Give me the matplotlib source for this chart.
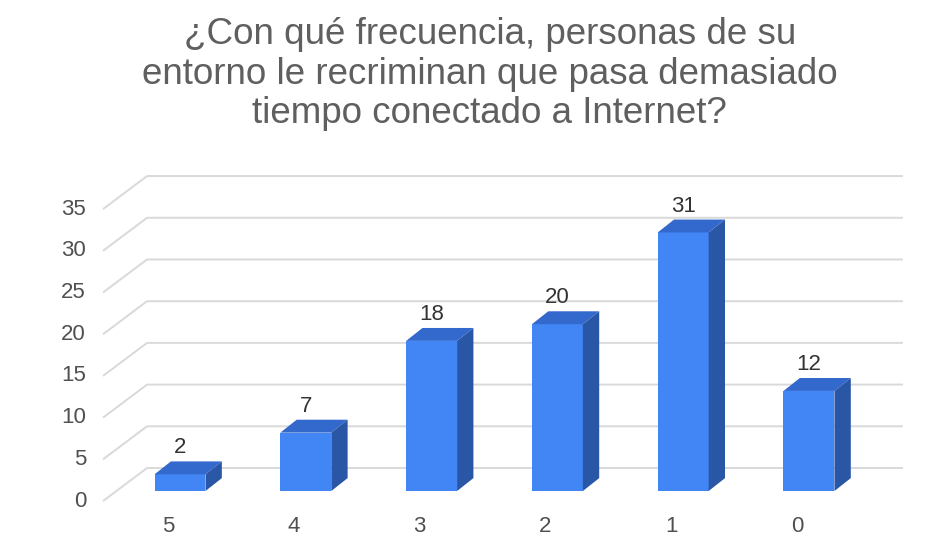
import matplotlib
matplotlib.use('Agg')
import matplotlib.pyplot as plt
from matplotlib.patches import Polygon, Rectangle

# ---- data ----
categories = ['5', '4', '3', '2', '1', '0']
values = [2, 7, 18, 20, 31, 12]
y_ticks = [0, 5, 10, 15, 20, 25, 30, 35]
title_lines = ["¿Con qué frecuencia, personas de su",
               "entorno le recriminan que pasa demasiado",
               "tiempo conectado a Internet?"]

# ---- style ----
plt.rcParams['font.family'] = ['Liberation Sans', 'DejaVu Sans']
FRONT = '#4285F4'
TOP = '#3369CD'
SIDE = '#2A56A6'
GRID = '#D9D9D9'

BAR_W = 0.405     # bar width in category units
DX, DY = 0.13, 1.55   # bar depth offset (category units, value units)
WALL_FRONT_X, WALL_BACK_X, WALL_RIGHT_X = -0.612, -0.262, 5.747
FLOOR_FRONT_DY, WALL_BACK_DY = -1.2, 2.76

fig = plt.figure(figsize=(9.53, 5.55), dpi=100)
ax = fig.add_axes([0, 0, 1, 1])
ax.set_xlim(-1.431, 6.145)
ax.set_ylim(-7.67, 58.87)
ax.axis('off')

# gridlines (left wall diagonal + back wall horizontal)
for t in y_ticks:
    ax.plot([WALL_FRONT_X, WALL_BACK_X, WALL_RIGHT_X],
            [t + FLOOR_FRONT_DY, t + WALL_BACK_DY, t + WALL_BACK_DY],
            color=GRID, lw=1.4, zorder=1, solid_capstyle='butt')
    ax.text(WALL_FRONT_X - 0.135, t + FLOOR_FRONT_DY, str(t), ha='right', va='center',
            fontsize=16, color='#505050')

# bars
for i, (cat, v) in enumerate(zip(categories, values)):
    xl, xr = i - BAR_W / 2, i + BAR_W / 2
    ax.add_patch(Rectangle((xl, 0), BAR_W, v, facecolor=FRONT, edgecolor='none', zorder=3))
    ax.add_patch(Polygon([(xl, v), (xr, v), (xr + DX, v + DY), (xl + DX, v + DY)],
                         closed=True, facecolor=TOP, edgecolor='none', zorder=3))
    ax.add_patch(Polygon([(xr, 0), (xr + DX, DY), (xr + DX, v + DY), (xr, v)],
                         closed=True, facecolor=SIDE, edgecolor='none', zorder=3))
    ax.text(i, v + DY + 0.35, str(v), ha='center', va='bottom', fontsize=16,
            color='#333333', zorder=4)
    ax.text(i - 0.095, -4.3, cat, ha='center', va='center', fontsize=16, color='#505050')

baselines = [44, 83.5, 123]
for line, b in zip(title_lines, baselines):
    fig.text(0.514, 1 - b / 555, line, ha='center', va='baseline', fontsize=26.5,
             color='#5F5F5F')

fig.savefig('out.png', dpi=100)
